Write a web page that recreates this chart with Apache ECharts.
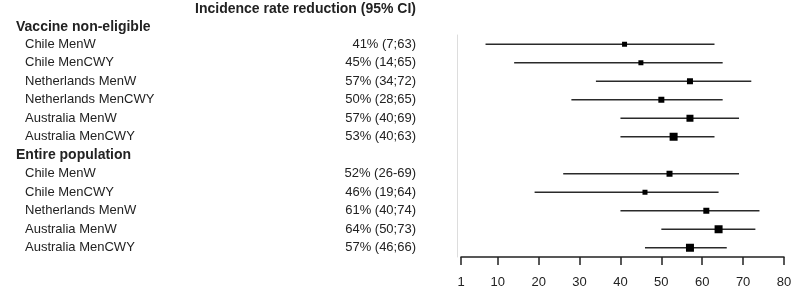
<!DOCTYPE html>
<html>
<head>
<meta charset="utf-8">
<script src="https://cdn.jsdelivr.net/npm/echarts@6/dist/echarts.min.js"></script>
<style>
html, body { margin: 0; padding: 0; background: #fff; }
#chart { width: 800px; height: 290px; }
</style>
</head>
<body>
<div id="chart"></div>
<script>
// forest plot data
const title = 'Incidence rate reduction (95% CI)'
const group1 = 'Vaccine non-eligible'
const group2 = 'Entire population'
const rowLabels = ['Chile MenW', 'Chile MenCWY', 'Netherlands MenW', 'Netherlands MenCWY', 'Australia MenW', 'Australia MenCWY',
    group2, 'Chile MenW', 'Chile MenCWY', 'Netherlands MenW', 'Australia MenW', 'Australia MenCWY']
const estimate = [41, 45, 57, 50, 57, 53, null, 52, 46, 61, 64, 57]
const lower = [7, 14, 34, 28, 40, 40, null, 26, 19, 40, 50, 46]
const upper = [63, 65, 72, 65, 69, 63, null, 69, 64, 74, 73, 66]
const ciText = ['41% (7;63)', '45% (14;65)', '57% (34;72)', '50% (28;65)', '57% (40;69)', '53% (40;63)',
    '', '52% (26-69)', '46% (19;64)', '61% (40;74)', '64% (50;73)', '57% (46;66)']
// box size (px)
const boxSize = [5, 5, 6, 6, 7, 8, null, 6, 5, 6, 8, 8]
const xTicks = [1, 10, 20, 30, 40, 50, 60, 70, 80]

const font = '"Liberation Sans", Arial, sans-serif'
const textColor = '#222'

let whiskers = []
let boxes = []
for (let i = 0; i < rowLabels.length; i++) {
    if (estimate[i] == null) continue
    whiskers.push([i, lower[i], upper[i]])
    boxes.push([estimate[i], i, boxSize[i]])
}

let myChart = echarts.init(document.getElementById('chart'))
let option = {
    animation: false,
    grid: { left: 461, right: 16, top: 35, bottom: 33, containLabel: false },
    graphic: [
        { type: 'text', x: 416, y: 9, style: { text: title, align: 'right', verticalAlign: 'middle',
            fontSize: 14, fontWeight: 'bold', fontFamily: font, fill: textColor } },
        { type: 'text', x: 16, y: 27, style: { text: group1, align: 'left', verticalAlign: 'middle',
            fontSize: 14, fontWeight: 'bold', fontFamily: font, fill: textColor } }
    ],
    xAxis: {
        type: 'value', min: 1, max: 80,
        splitLine: { show: false },
        axisLine: { show: true, lineStyle: { color: '#222', width: 1.5 } },
        axisTick: { show: true, length: 8, lineStyle: { color: '#222', width: 1.5 }, customValues: xTicks },
        axisLabel: { customValues: xTicks, margin: 19, color: textColor, fontSize: 13, fontFamily: font }
    },
    yAxis: [{
        type: 'category', inverse: true, data: rowLabels, offset: 4,
        axisLine: { show: true, lineStyle: { color: '#ddd', width: 1 } },
        axisTick: { show: false },
        splitLine: { show: false },
        axisLabel: {
            interval: 0, align: 'left', margin: 441,
            formatter: function (value) {
                return value === group2 ? '{h|' + value + '}' : '{n|' + value + '}'
            },
            rich: {
                h: { fontSize: 14, fontWeight: 'bold', fontFamily: font, color: textColor },
                n: { fontSize: 13, fontFamily: font, color: textColor, padding: [0, 0, 0, 9] }
            }
        }
    }, {
        type: 'category', inverse: true, data: ciText, position: 'left', offset: 4,
        axisLine: { show: false },
        axisTick: { show: false },
        splitLine: { show: false },
        axisLabel: { interval: 0, align: 'right', margin: 41, fontSize: 13, fontFamily: font, color: textColor }
    }],
    series: [{
        type: 'custom',
        yAxisIndex: 0,
        data: whiskers,
        encode: { x: [1, 2], y: 0 },
        renderItem: function (params, api) {
            let start = api.coord([api.value(1), api.value(0)])
            let end = api.coord([api.value(2), api.value(0)])
            return {
                type: 'line',
                shape: { x1: start[0], y1: start[1], x2: end[0], y2: end[1] },
                style: { stroke: '#2a2a2a', lineWidth: 1.5 }
            }
        }
    }, {
        type: 'scatter',
        yAxisIndex: 0,
        symbol: 'rect',
        symbolSize: function (val) { return val[2] },
        itemStyle: { color: '#000', opacity: 1 },
        data: boxes,
        z: 5
    }]
}
myChart.setOption(option)
window.addEventListener('resize', function () {
    myChart.resize()
})
</script>
</body>
</html>
